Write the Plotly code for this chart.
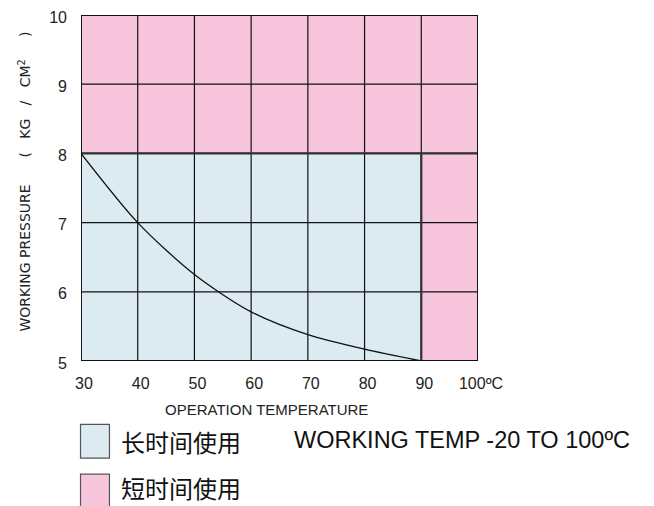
import plotly.graph_objects as go

# ---- data ----
temps = [30, 40, 50, 60, 70, 80, 90]
pressure = [8.0, 7.0, 6.25, 5.71, 5.38, 5.17, 5.0]

x_ticks = [30, 40, 50, 60, 70, 80, 90, 100]
x_tick_labels = ["30", "40", "50", "60", "70", "80", "90", "100ºC"]
y_ticks = [5, 6, 7, 8, 9, 10]
y_tick_labels = ["5", "6", "7", "8", "9", "10"]

x_min, x_max = 30, 100
y_min, y_max = 5, 10
long_term_max_temp = 90
long_term_max_pressure = 8

legend_labels = ["长时间使用", "短时间使用"]
note_text = "WORKING TEMP -20 TO 100ºC"
x_title = "OPERATION TEMPERATURE"
NB = "\u00a0"
y_title = ("WORKING PRESSURE" + NB * 6 + "(" + NB * 3 + "KG" + NB * 3 + "/" + NB * 3
           + "CM<sup>2</sup>" + NB * 5 + ")")

PINK = "#F7C5DC"
BLUE = "#DCEBF1"

fig = go.Figure()

# short-term region (whole area, pink)
fig.add_trace(go.Scatter(
    x=[x_min, x_max, x_max, x_min, x_min],
    y=[y_min, y_min, y_max, y_max, y_min],
    fill="toself", fillcolor=PINK, mode="lines",
    line=dict(width=0), hoverinfo="skip", showlegend=False))
# long-term region (blue)
fig.add_trace(go.Scatter(
    x=[x_min, long_term_max_temp, long_term_max_temp, x_min, x_min],
    y=[y_min, y_min, long_term_max_pressure, long_term_max_pressure, y_min],
    fill="toself", fillcolor=BLUE, mode="lines",
    line=dict(width=0), hoverinfo="skip", showlegend=False))

# grid lines
gx, gy = [], []
for xv in x_ticks:
    gx += [xv, xv, None]
    gy += [y_min, y_max, None]
for yv in y_ticks:
    gx += [x_min, x_max, None]
    gy += [yv, yv, None]
fig.add_trace(go.Scatter(x=gx, y=gy, mode="lines",
                         line=dict(color="#111111", width=1.2),
                         hoverinfo="skip", showlegend=False))
# boundary of long-term region
fig.add_trace(go.Scatter(
    x=[x_min, x_max, None, long_term_max_temp, long_term_max_temp],
    y=[long_term_max_pressure, long_term_max_pressure, None, y_min, long_term_max_pressure],
    mode="lines", line=dict(color="#333333", width=2.2),
    hoverinfo="skip", showlegend=False))
# frame
fig.add_trace(go.Scatter(
    x=[x_min, x_max, x_max, x_min, x_min],
    y=[y_min, y_min, y_max, y_max, y_min],
    mode="lines", line=dict(color="#111111", width=1.8),
    hoverinfo="skip", showlegend=False))

# curve
fig.add_trace(go.Scatter(x=temps, y=pressure, mode="lines",
                         line=dict(color="#111111", width=1.3, shape="spline", smoothing=0.8),
                         showlegend=False))

tick_font = dict(family="Liberation Sans", size=16, color="#222222")
fig.update_xaxes(range=[x_min, x_max], tickvals=x_ticks, ticktext=x_tick_labels,
                 showgrid=False, zeroline=False, showline=False, ticks="",
                 tickfont=tick_font, ticklabelstandoff=11, ticklabelshift=3,
                 automargin=False, ticklabeloverflow="allow")
fig.update_yaxes(range=[y_min, y_max], tickvals=y_ticks, ticktext=y_tick_labels,
                 showgrid=False, zeroline=False, showline=False, ticks="",
                 tickfont=tick_font, ticklabelstandoff=13, ticklabelshift=2,
                 automargin=False, ticklabeloverflow="allow")

W, H = 654, 506
OFF = 8  # page body margin
# plot area in screen pixels
SL, SR, ST, SB = 80.5, 478, 14.5, 361.5
L, R, T, B = SL - OFF, SR - OFF, ST - OFF, SB - OFF
pw, ph = R - L, B - T


def px(x):
    return (x - OFF - L) / pw


def py(y):
    return (B - (y - OFF)) / ph


annotations = [
    dict(text=x_title, x=px(266), y=py(410), xref="paper", yref="paper",
         xanchor="center", yanchor="middle", showarrow=False,
         font=dict(family="Liberation Sans", size=15, color="#222222")),
    dict(text=y_title, x=px(24), y=py(182), xref="paper", yref="paper", textangle=-90,
         xanchor="center", yanchor="middle", showarrow=False,
         font=dict(family="DejaVu Sans", size=14, color="#222222")),
    dict(text=legend_labels[0], x=px(119), y=py(442), xref="paper", yref="paper",
         xanchor="left", yanchor="middle", showarrow=False,
         font=dict(family="Noto Sans CJK SC", size=24, color="#111111")),
    dict(text=legend_labels[1], x=px(119), y=py(488), xref="paper", yref="paper",
         xanchor="left", yanchor="middle", showarrow=False,
         font=dict(family="Noto Sans CJK SC", size=24, color="#111111")),
    dict(text=note_text, x=px(292), y=py(441), xref="paper", yref="paper",
         xanchor="left", yanchor="middle", showarrow=False,
         font=dict(family="Liberation Sans", size=23.5, color="#111111")),
]

shapes = [
    dict(type="rect", xref="paper", yref="paper", x0=px(80), x1=px(109),
         y0=py(459), y1=py(425), fillcolor=BLUE, line=dict(color="#555555", width=1.2)),
    dict(type="rect", xref="paper", yref="paper", x0=px(80), x1=px(109),
         y0=py(509), y1=py(475), fillcolor=PINK, line=dict(color="#555555", width=1.2)),
]

fig.update_layout(
    width=W, height=H,
    margin=dict(l=L, r=W - R, t=T, b=H - B, pad=0),
    paper_bgcolor="white", plot_bgcolor="white",
    annotations=annotations, shapes=shapes, showlegend=False,
)

fig.write_html("out.html")
